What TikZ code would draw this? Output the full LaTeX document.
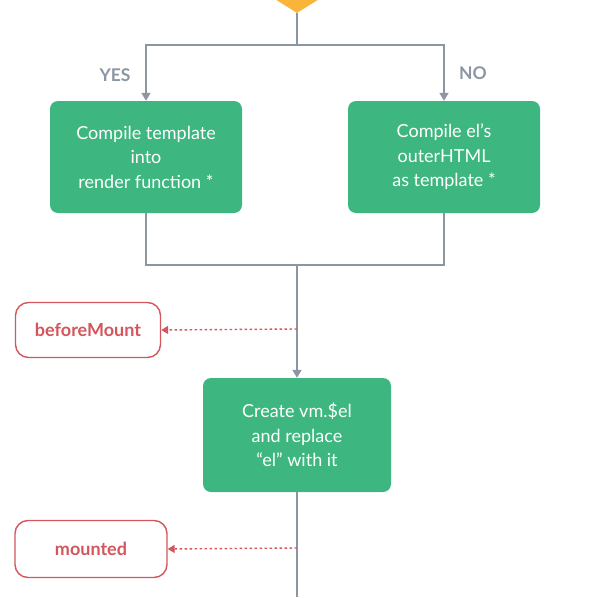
\documentclass[tikz,border=0pt]{standalone}
\usepackage{fontspec}
\setmainfont{Lato}
\usetikzlibrary{arrows.meta, shapes.geometric}

\begin{document}
\begin{tikzpicture}[x=1pt, y=-1pt, font=\fontsize{18}{24.5}\selectfont]
    % Define colours
    \definecolor{stepColour}{HTML}{3DB77F}
    \definecolor{lineColour}{HTML}{8C96A2}
    \definecolor{hookColour}{HTML}{D4565C}
    \definecolor{decisionColour}{HTML}{F9B43A}

    % Define styles
    \tikzset{
        stepbox/.style={rectangle, rounded corners=8pt, fill=stepColour, text=white,
            minimum width=192pt, minimum height=112pt, align=center, inner sep=0pt},
        hookbox/.style={rectangle, rounded corners=13pt, draw=hookColour, line width=1.4pt,
            fill=white, text=hookColour, font=\fontsize{18}{22}\selectfont\bfseries,
            minimum width=145pt, minimum height=55pt},
        branch/.style={text=lineColour, font=\fontsize{17.5}{20}\selectfont\bfseries},
        wire/.style={draw=lineColour, line width=1.7pt},
        flow/.style={wire, -{Triangle[length=8pt, width=9pt]}},
        hook/.style={draw=hookColour, line width=1.4pt, dash pattern=on 2.5pt off 2.5pt,
            -{Triangle[length=7pt, width=8pt]}}
    }

    % Fix the frame
    \useasboundingbox (0,0) rectangle (613,597);

    % Decision diamond (cut off at the top)
    \begin{scope}
        \clip (0,0) rectangle (613,597);
        \node[diamond, fill=decisionColour, minimum width=96pt, minimum height=60pt,
            inner sep=0pt] (decide) at (297,-17) {};
    \end{scope}

    % Steps
    \node[stepbox] (compile) at (146,157) {Compile template\\into\\render function *};
    \node[stepbox] (outer) at (444,157) {Compile el's\\outerHTML\\as template *};
    \node[stepbox, minimum width=188pt, minimum height=114pt] (create) at (297,435)
        {Create vm.\$el\\and replace\\``el'' with it};

    % Hooks
    \node[hookbox] (before) at (88,330) {beforeMount};
    \node[hookbox, minimum width=152pt, minimum height=57pt] (mounted) at (91,549) {mounted};

    % Branch labels
    \node[branch] (yes) at (115,75) {YES};
    \node[branch] (no) at (473,73) {NO};

    % Junction points
    \coordinate (split) at (297,45);
    \coordinate (merge) at (297,265);
    \coordinate (beforeTap) at (297,329);
    \coordinate (mountedTap) at (297,548);
    \coordinate (exit) at (297,597);

    % Draw connectors
    \draw[wire] (decide.south) -- (split);
    \draw[flow] (split) -| (compile.north);
    \draw[flow] (split) -| (outer.north);
    \draw[wire] (compile.south) |- (merge);
    \draw[wire] (outer.south) |- (merge);
    \draw[flow] (merge) -- (create.north);
    \draw[wire] (create.south) -- (exit);

    % Hook arrows
    \draw[hook] (beforeTap) -- (before.east);
    \draw[hook] (mountedTap) -- (mounted.east);

\end{tikzpicture}
\end{document}
